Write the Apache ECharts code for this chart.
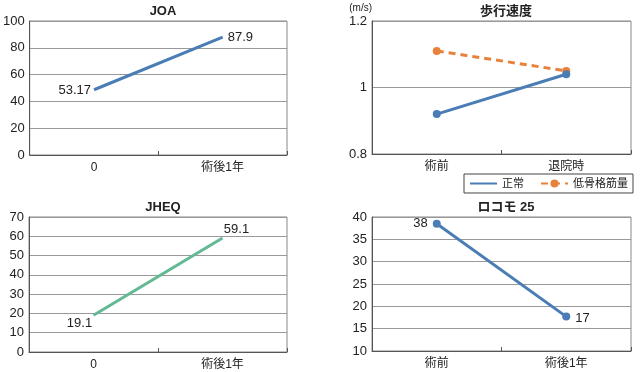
<!DOCTYPE html>
<html><head><meta charset="utf-8">
<script src="https://cdn.jsdelivr.net/npm/echarts@6/dist/echarts.min.js"></script>
<style>html,body{margin:0;padding:0;background:#fff}#c{width:640px;height:372px}</style>
</head><body><div id="c"></div>
<script>
// ---- data ----
const joaCats = ['0', '術後1年'];
const joaValues = [48.7, 87.9];
const joaLabels = ['53.17', '87.9'];
const speedCats = ['術前', '退院時'];
const speedNormal = [0.92, 1.04];
const speedLow = [1.11, 1.05];
const jheqCats = ['0', '術後1年'];
const jheqValues = [19.1, 59.1];
const jheqLabels = ['19.1', '59.1'];
const locoCats = ['術前', '術後1年'];
const locoValues = [38.5, 17.7];
const locoLabels = ['38', '17'];
const titles = ['JOA', '歩行速度', 'JHEQ', 'ロコモ 25'];
const seriesNames = ['正常', '低骨格筋量'];

const BLUE = '#4a7db5', ORANGE = '#e8823a', GREEN = '#62b993';
const FONT = '"Liberation Sans", Arial, "Noto Sans CJK JP", sans-serif';
const txt = '#222';

const grids = [
  {left: 29, top: 21, width: 258, height: 134},
  {left: 372, top: 21, width: 259, height: 133},
  {left: 29, top: 217, width: 258, height: 135},
  {left: 372, top: 217, width: 259, height: 134}
].map(g => Object.assign({show: true, borderColor: '#888', borderWidth: 1, backgroundColor: 'transparent'}, g));

function xAx(i, cats) {
  return {type: 'category', gridIndex: i, data: cats, boundaryGap: true,
    axisLine: {lineStyle: {color: '#555', width: 1}},
    axisTick: {show: true, inside: true, length: 4, lineStyle: {color: '#555'}},
    axisLabel: {color: txt, fontSize: 12, fontFamily: FONT, margin: 7}};
}
function yAx(i, min, max, interval, fmt) {
  return {type: 'value', gridIndex: i, min: min, max: max, interval: interval,
    axisLine: {show: true, lineStyle: {color: '#555', width: 1}},
    axisTick: {show: false},
    splitLine: {show: true, lineStyle: {color: '#999', width: 1}},
    axisLabel: {color: txt, fontSize: 13, fontFamily: FONT, margin: 5, formatter: fmt}};
}
function withLabels(values, texts, cfg) {
  return values.map((v, k) => ({value: v,
    label: Object.assign({show: true, formatter: texts[k], color: txt, fontSize: 13, fontFamily: FONT}, cfg[k])}));
}

const titleCenters = [[158, 0], [501, 0], [158, 196], [501, 196]];
const option = {
  animation: false,
  title: titles.map((t, i) => ({text: t, left: titleCenters[i][0], top: titleCenters[i][1], textAlign: 'center',
    textStyle: {fontSize: 13, fontWeight: 'bold', color: txt, fontFamily: FONT}})),
  grid: grids,
  xAxis: [xAx(0, joaCats), xAx(1, speedCats), xAx(2, jheqCats), xAx(3, locoCats)],
  yAxis: [
    yAx(0, 0, 100, 20),
    Object.assign(yAx(1, 0.8, 1.2, 0.2, v => (Math.round(v * 10) / 10).toString()),
      {name: '(m/s)', nameLocation: 'end', nameGap: 8, nameTextStyle: {color: txt, fontSize: 10, fontFamily: FONT, align: 'right'}}),
    yAx(2, 0, 70, 10),
    yAx(3, 10, 40, 5)
  ],
  legend: {
    data: [{name: seriesNames[0], itemStyle: {opacity: 0}}, {name: seriesNames[1]}],
    orient: 'horizontal', left: 464, top: 174, width: 240,
    borderColor: '#444', borderWidth: 1, padding: [4, 5, 4, 5], itemGap: 16,
    itemWidth: 27, itemHeight: 10,
    textStyle: {color: txt, fontSize: 11, fontFamily: FONT}
  },
  series: [
    {type: 'line', xAxisIndex: 0, yAxisIndex: 0, symbol: 'circle', symbolSize: 0.01,
      lineStyle: {color: BLUE, width: 3}, itemStyle: {color: BLUE},
      data: withLabels(joaValues, joaLabels, [{position: 'left', distance: 3, offset: [0, 1]}, {position: 'right', distance: 5, offset: [0, 0]}])},
    {name: seriesNames[0], type: 'line', xAxisIndex: 1, yAxisIndex: 1, symbol: 'circle', symbolSize: 8,
      lineStyle: {color: BLUE, width: 3}, itemStyle: {color: BLUE}, data: speedNormal, z: 3},
    {name: seriesNames[1], type: 'line', xAxisIndex: 1, yAxisIndex: 1, symbol: 'circle', symbolSize: 8,
      lineStyle: {color: ORANGE, width: 3, type: [7, 5]}, itemStyle: {color: ORANGE}, data: speedLow, z: 2},
    {type: 'line', xAxisIndex: 2, yAxisIndex: 2, symbol: 'circle', symbolSize: 0.01,
      lineStyle: {color: GREEN, width: 3}, itemStyle: {color: GREEN},
      data: withLabels(jheqValues, jheqLabels, [{position: 'bottom', distance: 2, offset: [-14, 0]}, {position: 'top', distance: 2, offset: [14, 0]}])},
    {type: 'line', xAxisIndex: 3, yAxisIndex: 3, symbol: 'circle', symbolSize: 8,
      lineStyle: {color: BLUE, width: 3}, itemStyle: {color: BLUE},
      data: withLabels(locoValues, locoLabels, [{position: 'left', distance: 5}, {position: 'right', distance: 5, offset: [0, 2]}])}
  ]
};
const chart = echarts.init(document.getElementById('c'), null, {renderer: 'canvas'});
chart.setOption(option);
</script></body></html>
